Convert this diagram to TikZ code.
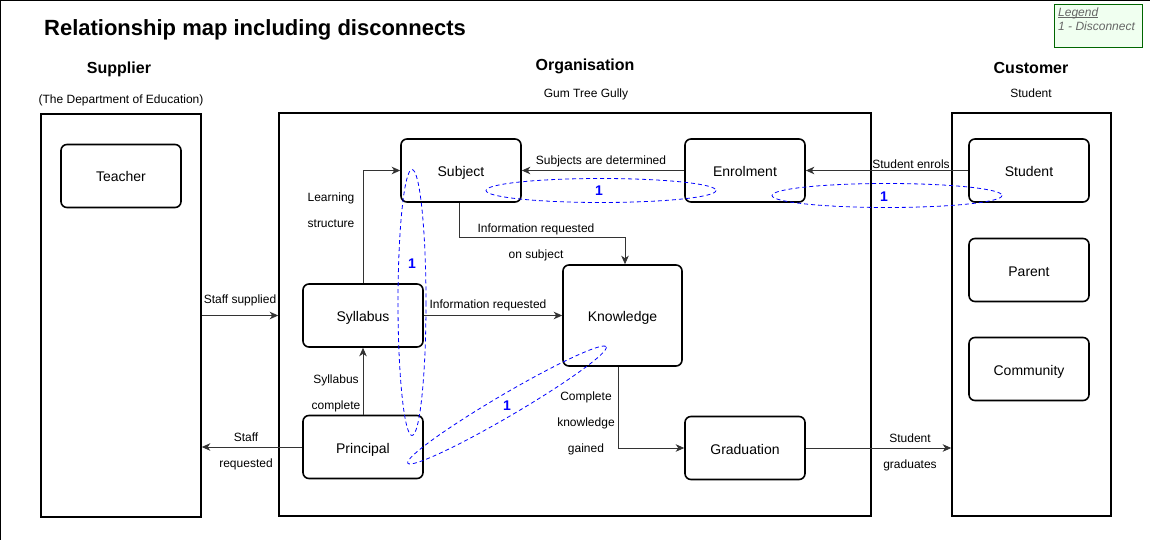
\documentclass[tikz,border=0pt]{standalone}
\usepackage{fontspec}
\setmainfont{Liberation Sans}
\usetikzlibrary{arrows.meta}
\definecolor{disblue}{HTML}{0000FF}
\definecolor{legfill}{HTML}{F0FFF0}
\definecolor{legdraw}{HTML}{006600}
\definecolor{leggray}{HTML}{666666}
\begin{document}
\begin{tikzpicture}[x=1pt,y=-1pt,
  box/.style={draw, line width=1.6pt, rounded corners=6pt, minimum width=120pt, minimum height=63pt, font=\fontsize{14}{16}\selectfont, inner sep=0pt, text height=12pt, text depth=0pt},
  lane/.style={draw, line width=1.6pt, inner sep=0pt},
  conn/.style={draw=black!80, line width=0.9pt, -{Stealth[length=8.5pt,width=7.5pt,inset=2.5pt]}},
  lbl/.style={font=\fontsize{12}{26}\selectfont, align=center, inner sep=0pt, yshift=-1.5pt},
  head/.style={font=\bfseries\fontsize{16}{19}\selectfont, inner sep=0pt, text height=11.5pt, text depth=0pt},
  sub/.style={font=\fontsize{12}{14}\selectfont, inner sep=0pt, text height=8.6pt, text depth=0pt},
  dis/.style={draw=disblue, line width=0.8pt, dash pattern=on 4pt off 3pt},
  disnum/.style={text=disblue, font=\bfseries\fontsize{14}{16}\selectfont, inner sep=0pt, text height=10pt, text depth=0pt}
]
\useasboundingbox (0,0) rectangle (1150,540);
\fill[white] (0,0) rectangle (1150,540);
\draw[line width=1.2pt] (0.5,540) -- (0.5,0.5) -- (1150,0.5);

% title and headings
\node[font=\bfseries\fontsize{22}{26}\selectfont, inner sep=0pt, text height=16pt, text depth=0pt] (title) at (255,28) {Relationship map including disconnects};
\node[head] (hsup) at (119,68) {Supplier};
\node[sub] (ssup) at (121,99) {(The Department of Education)};
\node[head] (horg) at (585,65) {Organisation};
\node[sub] (sorg) at (586,93) {Gum Tree Gully};
\node[head] (hcus) at (1031,68) {Customer};
\node[sub] (scus) at (1031,93) {Student};

% legend
\node[draw=legdraw, fill=legfill, line width=0.8pt, minimum width=88pt, minimum height=43pt, inner sep=0pt] (legend) at (1098,25.5) {};
\node[anchor=base west, inner sep=0pt, text=leggray, font=\itshape\fontsize{12}{14}\selectfont] (legtitle) at (1058,16.5) {Legend};
\draw[leggray, line width=0.6pt] ([yshift=-1.3pt]legtitle.base west) -- ([yshift=-1.3pt]legtitle.base east);
\node[anchor=base west, inner sep=0pt, text=leggray, font=\itshape\fontsize{12}{14}\selectfont] (legtext) at (1058,30.5) {1 - Disconnect};

% lanes
\node[lane, minimum width=160pt, minimum height=403pt] (suplane) at (121,315.5) {};
\node[lane, minimum width=592pt, minimum height=403pt] (orglane) at (575,314.5) {};
\node[lane, minimum width=159pt, minimum height=403pt] (cuslane) at (1031.5,314.5) {};

% nodes
\node[box] (teacher) at (121,176) {Teacher};
\node[box] (subject) at (461,170.5) {Subject};
\node[box] (enrol) at (745,170.5) {Enrolment};
\node[box] (student) at (1029,170.5) {Student};
\node[box] (parent) at (1029,270) {Parent};
\node[box] (community) at (1029,369) {Community};
\node[box] (syllabus) at (363,315.5) {Syllabus};
\node[box, minimum width=119pt, minimum height=101pt] (knowledge) at (622.5,315.5) {Knowledge};
\node[box] (principal) at (363,447) {Principal};
\node[box] (graduation) at (745,448) {Graduation};

% connectors
\draw[conn] (suplane.east |- syllabus.west) -- (orglane.west |- syllabus.west);
\draw[conn] (principal.west) -- (suplane.east |- principal.west);
\draw[conn] (syllabus.north) |- (subject.west);
\draw[conn] (principal.north) -- (syllabus.south);
\draw[conn] (enrol.west) -- (subject.east);
\draw[conn] (student.west) -- (enrol.east);
\draw[conn] ([xshift=-2pt]subject.south) -- ++(0,35) -| ([xshift=2.5pt]knowledge.north);
\draw[conn] (syllabus.east) -- (syllabus.east -| knowledge.west);
\draw[conn] ([xshift=-4.5pt]knowledge.south) |- (graduation.west);
\draw[conn] (graduation.east) -- (graduation.east -| cuslane.west);

% connector labels
\node[lbl] (lstaffsup) at (240,299) {Staff supplied};
\node[lbl] (lstaffreq) at (246,450) {Staff\\requested};
\node[lbl] (llearn) at (331,209) {Learning\\structure};
\node[lbl] (lsylcomp) at (336,392) {Syllabus\\complete};
\node[lbl] (lsubdet) at (601,160) {Subjects are determined};
\node[lbl] (lenrols) at (911,163) {Student enrols};
\node[lbl] (linfosub) at (536,241) {Information requested\\on subject};
\node[lbl] (linfo) at (488,304) {Information requested};
\node[lbl] (lcomplete) at (586,422) {Complete\\knowledge\\gained};
\node[lbl] (lgrad) at (910,451) {Student\\graduates};

% disconnects
\draw[dis] (601,190.5) ellipse (115 and 12);
\node[disnum] (d1) at (599,191) {1};
\draw[dis] (887,195.5) ellipse (115 and 12);
\node[disnum] (d2) at (884,196) {1};
\draw[dis] (412,302.5) ellipse (14 and 133);
\node[disnum] (d3) at (412,263) {1};
\draw[dis, rotate around={30.4:(507,405)}] (507,405) ellipse (115 and 11);
\node[disnum] (d4) at (507,405) {1};
\end{tikzpicture}
\end{document}
